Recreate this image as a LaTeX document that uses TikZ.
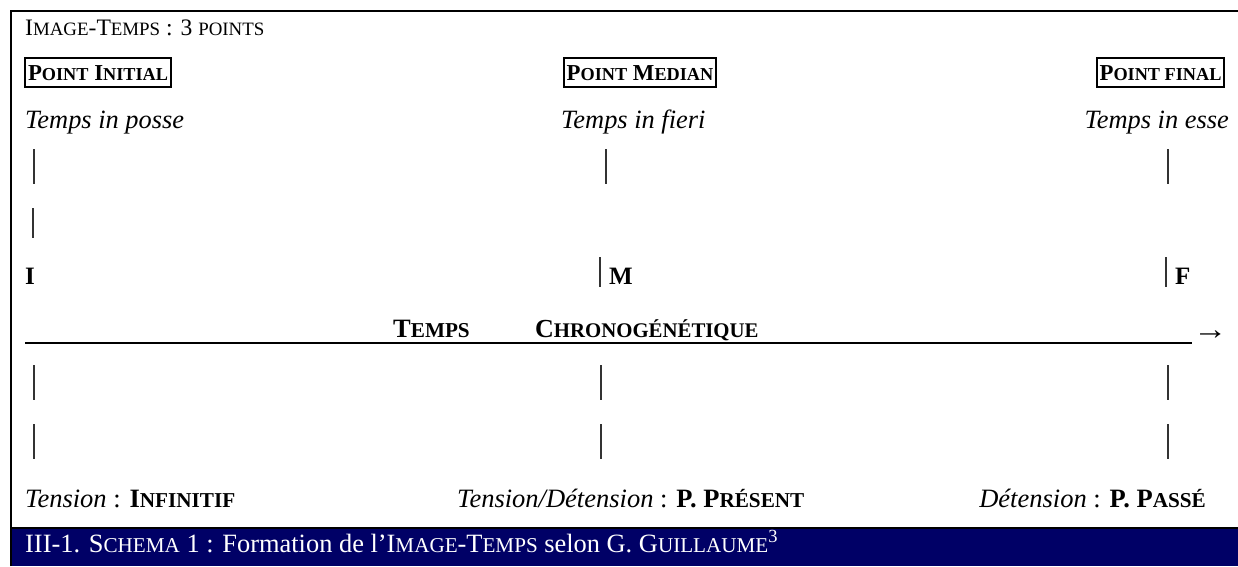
\documentclass[tikz,border=0pt]{standalone}
\usepackage{fontspec}
\setmainfont{Liberation Serif}
\definecolor{navybar}{RGB}{0,0,102}
\newcommand\SC[1]{\scalebox{0.8}{#1}}
\tikzset{
  txt/.style={inner sep=0pt, font=\fontsize{26.5}{30}\selectfont},
  hdr/.style={inner sep=0pt, font=\fontsize{23.6}{27}\selectfont},
  boxlbl/.style={draw, line width=1.5pt, inner sep=0pt, minimum height=29pt,
     text height=15.5pt, text depth=0pt, font=\fontsize{22.8}{26}\selectfont\bfseries},
  itl/.style={inner sep=0pt, font=\fontsize{26.4}{30}\selectfont\itshape},
  bar/.style={line width=1.3pt, black!80},
  frame/.style={line width=2pt, black}
}
\begin{document}
\begin{tikzpicture}[x=1pt,y=-1pt]
\useasboundingbox (0,0) rectangle (1238,566);
% frame and caption bar
\fill[navybar] (11,529) rectangle (1238,566);
\draw[frame] (11,566) -- (11,11) -- (1238,11);
\draw[line width=1.5pt] (11,528) -- (1238,528);
% header
\node[hdr, anchor=base west] (hd) at (25,35) {I\SC{MAGE}-T\SC{EMPS} : 3 \SC{POINTS}};
% boxed labels
\node[boxlbl, minimum width=146pt] (pin) at (98,72.5) {P\SC{OINT} I\SC{NITIAL}};
\node[boxlbl, minimum width=152pt] (pme) at (640,72.5) {P\SC{OINT} M\SC{EDIAN}};
\node[boxlbl, minimum width=127pt] (pfi) at (1160.5,72.5) {P\SC{OINT FINAL}};
% italic row
\node[itl, anchor=base west] (tpo) at (25,128) {Temps in posse};
\node[itl, anchor=base west] (tfi) at (561,128) {Temps in fieri};
\node[itl, anchor=base east] (tes) at (1229,128) {Temps in esse};
% ticks above
\draw[bar] (34,149) -- (34,184);
\draw[bar] (606,149) -- (606,184);
\draw[bar] (1168,149) -- (1168,184);
\draw[bar] (33,208) -- (33,238);
% I M F row
\node[txt, anchor=base west, font=\fontsize{25}{30}\selectfont\bfseries] (lI) at (25,284) {I};
\draw[bar] (600,257) -- (600,287);
\node[txt, anchor=base west, font=\fontsize{25}{30}\selectfont\bfseries] (lM) at (609,284) {M};
\draw[bar] (1166,257) -- (1166,287);
\node[txt, anchor=base west, font=\fontsize{25}{30}\selectfont\bfseries] (lF) at (1175,284) {F};
% axis
\coordinate (axL) at (25,343);
\coordinate (axR) at (1192,343);
\draw[line width=1.3pt] (axL) -- (axR);
\node[txt, anchor=base west, font=\fontsize{26.5}{30}\selectfont\bfseries] (tmp) at (393,337) {T\SC{EMPS}};
\node[txt, anchor=base west, font=\fontsize{26}{30}\selectfont\bfseries] (chr) at (535,337) {C\SC{HRONOGÉNÉTIQUE}};
\node[txt, anchor=base west] (arr) at (1193,339) {\scalebox{1.3}[1.15]{→}};
% ticks below
\draw[bar] (34,365) -- (34,400);
\draw[bar] (601,365) -- (601,400);
\draw[bar] (1168,365) -- (1168,400);
\draw[bar] (34,424) -- (34,459);
\draw[bar] (601,424) -- (601,459);
\draw[bar] (1168,424) -- (1168,459);
% bottom labels
\node[txt, anchor=base west] (b1) at (25,507) {\textit{Tension} : \textbf{I\SC{NFINITIF}}};
\node[txt, anchor=base west] (b2) at (457,507) {\textit{Tension/Détension} : \textbf{P. P\SC{RÉSENT}}};
\node[txt, anchor=base east] (b3) at (1206,507) {\textit{Détension} : \textbf{P. P\SC{ASSÉ}}};
% caption
\node[txt, anchor=base west, text=white, font=\fontsize{26.4}{30}\selectfont] (cap) at (25,552)
  {III-1. S\SC{CHEMA} 1 : Formation de l’I\SC{MAGE}-T\SC{EMPS} selon G. G\SC{UILLAUME}\textsuperscript{3}};
\end{tikzpicture}
\end{document}
